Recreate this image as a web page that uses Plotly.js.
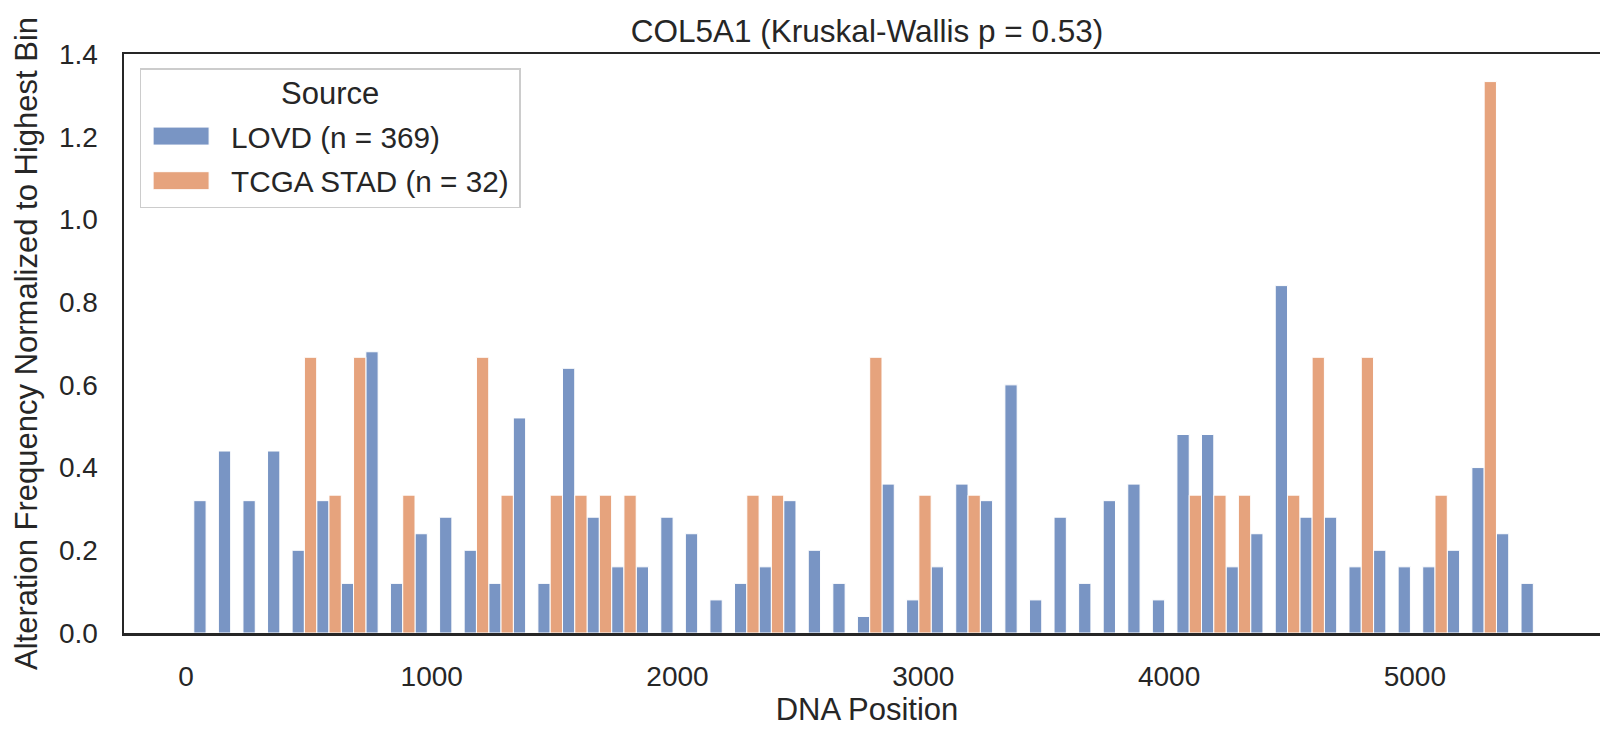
<!DOCTYPE html>
<html><head><meta charset="utf-8">
<script src="https://cdn.plot.ly/plotly-3.0.1.min.js"></script>
<style>html,body{margin:0;padding:0;overflow:hidden;background:#fff}#chart{width:1610px;height:731px}</style>
</head><body><div id="chart"></div>
<script>
// Histogram bins (DNA position), width 100
const binStart = 32;
const binWidth = 100;
// LOVD (n = 369): alteration frequency normalized to highest bin, one value per bin
const lovdValues = [0.32,0.44,0.32,0.44,0.20,0.32,0.12,0.68,0.12,0.24,
                    0.28,0.20,0.12,0.52,0.12,0.64,0.28,0.16,0.16,0.28,
                    0.24,0.08,0.12,0.16,0.32,0.20,0.12,0.04,0.36,0.08,
                    0.16,0.36,0.32,0.60,0.08,0.28,0.12,0.32,0.36,0.08,
                    0.48,0.48,0.16,0.24,0.84,0.28,0.28,0.16,0.20,0.16,
                    0.16,0.20,0.40,0.24,0.12];
// TCGA STAD (n = 32)
const tcgaValues = [0,0,0,0,0.6667,0.3333,0.6667,0,0.3333,0,
                    0,0.6667,0.3333,0,0.3333,0.3333,0.3333,0.3333,0,0,
                    0,0,0.3333,0.3333,0,0,0,0.6667,0,0.3333,
                    0,0.3333,0,0,0,0,0,0,0,0,
                    0.3333,0.3333,0.3333,0,0.3333,0.6667,0,0.6667,0,0,
                    0.3333,0,1.3333,0,0];
const seriesNames = ['LOVD (n = 369)', 'TCGA STAD (n = 32)'];
const xTickVals = [0, 1000, 2000, 3000, 4000, 5000];
const yTickVals = [0, 0.2, 0.4, 0.6, 0.8, 1.0, 1.2, 1.4];

const binCenters = lovdValues.map((_, i) => binStart + (i + 0.5) * binWidth);
const textColor = '#262626';
const fontFamily = 'Liberation Sans, Arial, sans-serif';

const traces = [
  {type: 'bar', name: seriesNames[0], legendgroup: 'lovd', x: binCenters, y: lovdValues,
   width: binWidth / 2, offset: -binWidth / 2,
   marker: {color: '#7995C4', line: {color: '#ffffff', width: 1}}},
  {type: 'bar', name: seriesNames[1], legendgroup: 'tcga', x: binCenters, y: tcgaValues,
   width: binWidth / 2, offset: 0,
   marker: {color: '#E6A37D', line: {color: '#ffffff', width: 1}}}
];

const layout = {
  width: 1610, height: 731,
  margin: {l: 124, r: 0, t: 54, b: 98, pad: 0},
  paper_bgcolor: '#ffffff', plot_bgcolor: '#ffffff',
  barmode: 'overlay',
  font: {family: fontFamily, color: textColor},
  title: {text: 'COL5A1 (Kruskal-Wallis p = 0.53)', font: {size: 31.5, color: textColor},
          x: 0.5, xref: 'paper', xanchor: 'center', y: 1 - 31 / 731, yref: 'container', yanchor: 'middle'},
  xaxis: {range: [-252, 5794], tickvals: xTickVals, tickformat: 'd',
          showline: true, linecolor: textColor, linewidth: 2.5, mirror: true,
          showgrid: false, zeroline: false, ticks: '', ticklabelstandoff: 17,
          tickfont: {size: 28, color: textColor},
          title: {text: 'DNA Position', font: {size: 31, color: textColor}, standoff: 7}},
  yaxis: {range: [0, 1.4], tickvals: yTickVals, tickformat: '.1f',
          showline: true, linecolor: textColor, linewidth: 2.5, mirror: true,
          showgrid: false, zeroline: false, ticks: '', ticklabelstandoff: 18,
          tickfont: {size: 28, color: textColor},
          title: {text: 'Alteration Frequency Normalized to Highest Bin', font: {size: 31, color: textColor}, standoff: 12}},
  legend: {x: 0.0105, y: 0.975, xanchor: 'left', yanchor: 'top',
           bgcolor: '#ffffff', bordercolor: '#cccccc', borderwidth: 1.5,
           font: {size: 29.7, color: textColor}, itemwidth: 80, tracegroupgap: 3,
           title: {text: 'Source', side: 'top center', font: {size: 31, color: textColor}}},
  showlegend: true
};

Plotly.newPlot('chart', traces, layout, {staticPlot: true}).then(() => {
  // widen the legend patches to match the reference swatches
  document.querySelectorAll('.legend .legendpoints path').forEach(p => {
    p.setAttribute('d', 'M23,9H-33V-9H23Z');
  });
  const t = document.querySelector('.legend .legendtitletext');
  if (t) t.setAttribute('transform', 'translate(0,-6)');
  const bg = document.querySelector('.legend rect.bg');
  if (bg) {
    const w = parseFloat(bg.getAttribute('width'));
    bg.setAttribute('width', w + 5);
    const tt = document.querySelector('.legend .legendtitletext');
    if (tt) tt.setAttribute('transform', 'translate(2.5,-6)');
  }
});
</script>
</body></html>
